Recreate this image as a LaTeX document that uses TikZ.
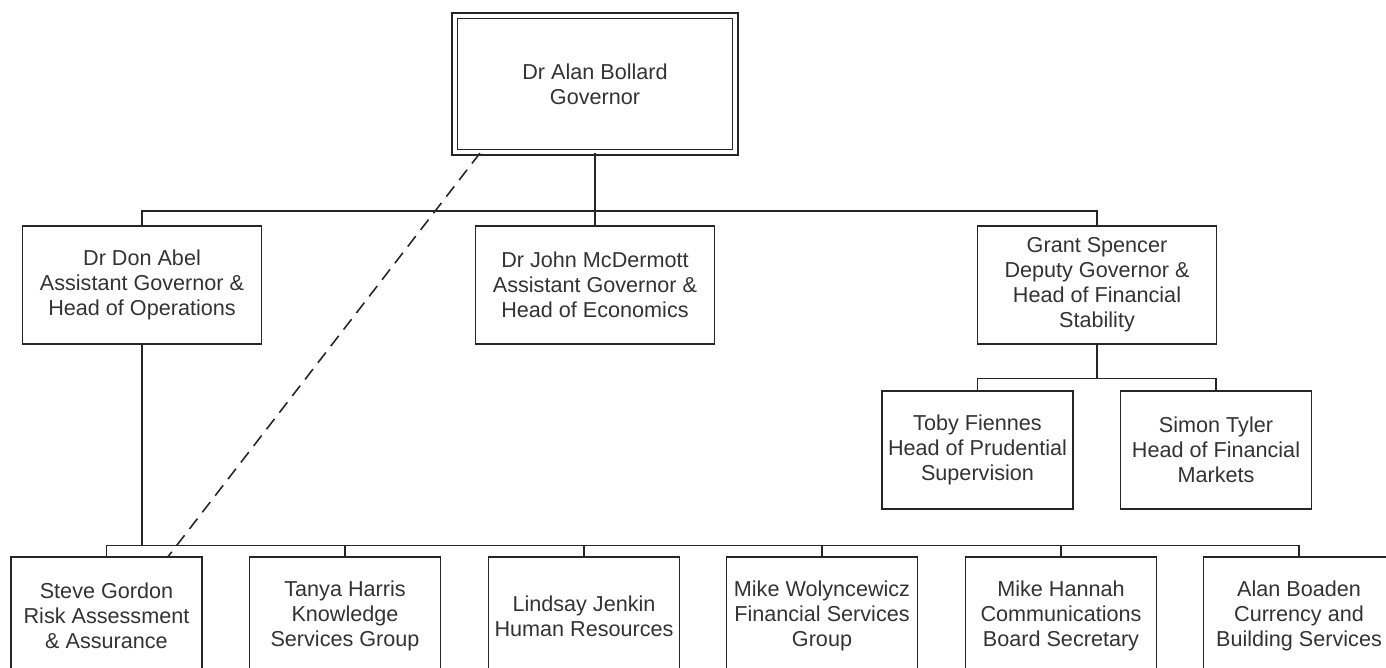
\documentclass[tikz,border=0pt]{standalone}
\usepackage{fontspec}
\setmainfont{Liberation Sans}
\usepackage{xcolor}
\definecolor{boxline}{rgb}{0.15,0.15,0.15}
\definecolor{boxtext}{rgb}{0.2,0.2,0.2}
\usetikzlibrary{calc}
\tikzset{
	person/.style={draw=boxline, line width=0.75pt, text=boxtext, align=center,
		inner sep=0pt, font=\fontsize{12.3pt}{14.2pt}\selectfont},
	widebox/.style={person, minimum width=4.78cm, minimum height=2.36cm},
	narrowbox/.style={person, minimum width=3.82cm, minimum height=2.36cm},
	topbox/.style={person, double=white, double distance=0.08cm,
		minimum width=5.62cm, minimum height=2.74cm},
	hline/.style={draw=boxline, line width=0.75pt},
	vline/.style={draw=boxline, line width=1.5pt},
	dotline/.style={draw=boxline, line width=0.9pt, dash pattern=on 0.26cm off 0.16cm}
}

\begin{document}
\begin{tikzpicture}[x=0.02cm, y=-0.02cm]
\clip (0,0) rectangle (1386,668);

% Governor
\node[topbox] (gov) at (595,84) {Dr Alan Bollard\\Governor};

% second row
\node[widebox] (abel) at (142,285) {Dr Don Abel\\Assistant Governor \&\\Head of Operations};
\node[widebox] (mcd) at (595,285) {Dr John McDermott\\Assistant Governor \&\\Head of Economics};
\node[widebox] (spencer) at (1097,285) {Grant Spencer\\Deputy Governor \&\\Head of Financial\\Stability};

% under Spencer
\node[narrowbox] (toby) at (977.5,450) {Toby Fiennes\\Head of Prudential\\Supervision};
\node[narrowbox] (tyler) at (1216,450) {Simon Tyler\\Head of Financial\\Markets};

% bottom row
\node[narrowbox] (steve) at (106.5,616) {Steve Gordon\\Risk Assessment\\\& Assurance};
\node[narrowbox] (tanya) at (345,616) {Tanya Harris\\Knowledge\\Services Group};
\node[narrowbox] (jenkin) at (584,616) {Lindsay Jenkin\\Human Resources};
\node[narrowbox] (wolyn) at (822,616) {Mike Wolyncewicz\\Financial Services\\Group};
\node[narrowbox] (hannah) at (1061,616) {Mike Hannah\\Communications\\Board Secretary};
\node[narrowbox] (boaden) at (1299,616) {Alan Boaden\\Currency and\\Building Services};

% Governor to second row
\draw[vline] (gov.south) -- ++(0,58) coordinate (busA);
\draw[hline] (abel.north) |- (busA) -| (spencer.north);
\draw[hline] (mcd.north) -- (busA);

% Spencer to his two heads
\draw[vline] (spencer.south) -- ++(0,34) coordinate (busB);
\draw[hline] (toby.north) |- (busB) -| (tyler.north);

% Abel to bottom row
\draw[vline] (abel.south) -- ++(0,201) coordinate (busC);
\draw[hline] (steve.north) |- (busC) -| (boaden.north);
\foreach \n in {tanya,jenkin,wolyn,hannah}
	\draw[hline] (\n.north) -- (\n.north |- busC);

% dotted reporting line
\draw[dotline] (gov.211) -- (steve.44);
\end{tikzpicture}
\end{document}
